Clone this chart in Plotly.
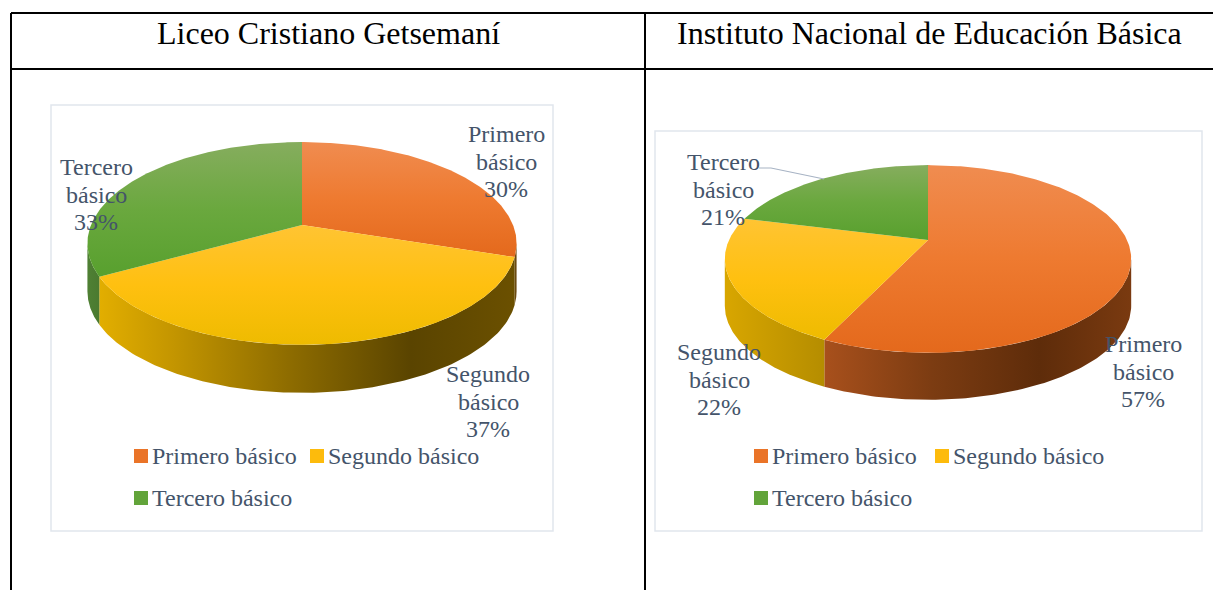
import numpy as np
import plotly.graph_objects as go

categories = ["Primero básico", "Segundo básico", "Tercero básico"]
liceo_values = [30, 37, 33]
instituto_values = [57, 22, 21]
titles = ["Liceo Cristiano Getsemaní", "Instituto Nacional de Educación Básica"]

W, H = 1213, 590
SERIF = "Liberation Serif"
LABEL = "#44546a"

# the y axis is reversed, so position 0 of a vertical gradient is the lower edge
TOP_SCALES = [
    [[0, "#e4691c"], [0.5, "#ee7a30"], [1, "#f08c50"]],
    [[0, "#eebb00"], [0.5, "#ffc010"], [1, "#ffc433"]],
    [[0, "#58a02e"], [0.5, "#6aa83e"], [1, "#86ad5e"]],
]

LEFT = dict(
    cx=302, cy=225, R=211, Ry=98, k=0.182, depth=48,
    values=liceo_values,
    walls=[
        [[0, "#6b4a10"], [1, "#6b4a10"]],
        [[0, "#e2ae00"], [0.18, "#c39500"], [0.45, "#8f6d00"], [0.75, "#5a4400"], [1, "#6b5000"]],
        [[0, "#4f8034"], [1, "#4a7a30"]],
    ],
)
RIGHT = dict(
    cx=928, cy=240, R=199, Ry=90, k=0.202, depth=47,
    values=instituto_values,
    walls=[
        [[0, "#a8501c"], [0.35, "#7c3c12"], [0.7, "#5e2c0a"], [1, "#7a3a10"]],
        [[0, "#d8a600"], [1, "#b58d00"]],
        [[0, "#4f8034"], [1, "#4a7a30"]],
    ],
)


def project(p, t):
    s = 1 + p["k"] * np.cos(t)
    return p["cx"] + p["R"] * np.sin(t) / s, p["cy"] - p["Ry"] * np.cos(t) / s


def draw_pie(fig, p):
    edges = np.cumsum([0] + list(p["values"])) / sum(p["values"]) * 2 * np.pi
    t_front_a = np.arccos(-p["k"])
    t_front_b = 2 * np.pi - t_front_a
    # side walls first, so the top faces cover their upper rim
    for i in range(len(p["values"])):
        a, b = max(edges[i], t_front_a), min(edges[i + 1], t_front_b)
        if b <= a:
            continue
        t = np.linspace(a, b, 120)
        x, y = project(p, t)
        fig.add_trace(go.Scatter(
            x=np.r_[x, x[::-1]], y=np.r_[y, y[::-1] + p["depth"]],
            mode="lines", line=dict(width=0), fill="toself",
            fillgradient=dict(type="horizontal", colorscale=p["walls"][i]),
            hoverinfo="skip", showlegend=False))
    for i in range(len(p["values"])):
        t = np.linspace(edges[i], edges[i + 1], 200)
        x, y = project(p, t)
        fig.add_trace(go.Scatter(
            x=np.r_[p["cx"], x, p["cx"]], y=np.r_[p["cy"], y, p["cy"]],
            mode="lines", line=dict(width=0), fill="toself",
            fillgradient=dict(type="vertical", colorscale=TOP_SCALES[i]),
            hoverinfo="skip", showlegend=False))


def text(x, y, s, size=24, color=LABEL, anchor="center"):
    return dict(x=x, y=y, text=s, showarrow=False, xref="x", yref="y",
                xanchor=anchor, yanchor="middle",
                font=dict(family=SERIF, size=size, color=color))


def data_label(x, y, cat, v):
    a, b = cat.split(" ")
    return [text(x, y, a), text(x, y + 27.5, b), text(x, y + 55, f"{v}%")]


fig = go.Figure()
draw_pie(fig, LEFT)
draw_pie(fig, RIGHT)

# legends
swatch = ["#ea7428", "#fdbb0c", "#62a43a"]
legend_pos = [
    [(141, 456), (317, 456), (141, 498)],
    [(761, 456), (942, 456), (761, 498)],
]
ann = []
for pos in legend_pos:
    for (x, y), c, cat in zip(pos, swatch, categories):
        fig.add_trace(go.Scatter(
            x=[x], y=[y], mode="markers",
            marker=dict(symbol="square", size=14, color=c, line=dict(width=0)),
            hoverinfo="skip", showlegend=False))
        ann.append(text(x + 9, y - 0.5, cat, anchor="left"))

# data labels
ann += data_label(506, 134, categories[0], liceo_values[0])
ann += data_label(488, 374, categories[1], liceo_values[1])
ann += data_label(96, 167, categories[2], liceo_values[2])
ann += data_label(1143, 344, categories[0], instituto_values[0])
ann += data_label(719, 352, categories[1], instituto_values[1])
ann += data_label(723, 162, categories[2], instituto_values[2])

# headers
ann.append(text(328.5, 33, titles[0], size=32, color="#000000"))
ann.append(text(929, 33, titles[1], size=32, color="#000000"))

# leader line
fig.add_trace(go.Scatter(
    x=[759, 771, 824], y=[168, 168, 179], mode="lines",
    line=dict(color="#a7b3c4", width=1.2), hoverinfo="skip", showlegend=False))


def line(x0, y0, x1, y1, w=2, c="#000000"):
    return dict(type="line", x0=x0, y0=y0, x1=x1, y1=y1, xref="x", yref="y",
                layer="below", line=dict(color=c, width=w))


def box(x0, y0, x1, y1):
    return dict(type="rect", x0=x0, y0=y0, x1=x1, y1=y1, xref="x", yref="y",
                layer="below", fillcolor="#ffffff", line=dict(color="#e1e6ed", width=1.5))


shapes = [
    line(11, 13, W, 13), line(11, 69, W, 69),
    line(11, 13, 11, H), line(645, 13, 645, H),
    box(51, 105, 553, 531), box(655, 131, 1202, 531),
]

fig.update_layout(
    width=W, height=H, autosize=False,
    margin=dict(l=0, r=0, t=0, b=0),
    paper_bgcolor="#ffffff", plot_bgcolor="#ffffff",
    xaxis=dict(range=[0, W], visible=False, fixedrange=True),
    yaxis=dict(range=[H, 0], visible=False, fixedrange=True),
    shapes=shapes, annotations=ann, showlegend=False,
)
fig.write_html("out.html", config=dict(displayModeBar=False),
               post_script="document.body.style.margin='0';")
